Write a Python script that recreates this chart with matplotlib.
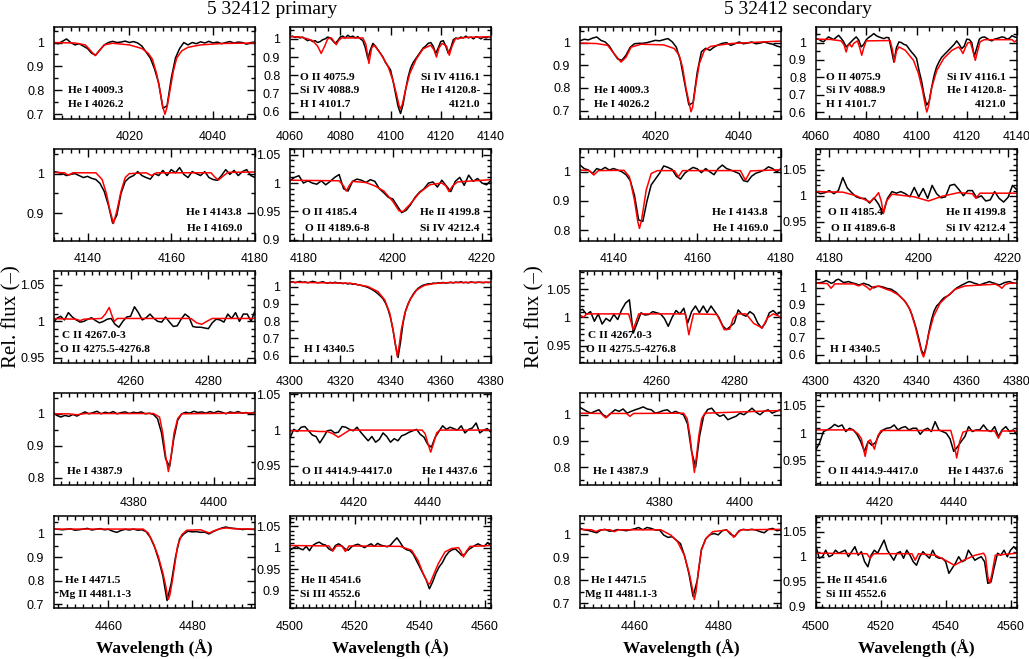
import numpy as np
import matplotlib
matplotlib.use("Agg")
import matplotlib.pyplot as plt
from matplotlib.ticker import MultipleLocator, FuncFormatter

# ============================================================
# DATA  (observed flux sampled every 1 A from the start value,
#        model given as (wavelength, flux) pairs)
# ============================================================

# ---------------- primary ----------------
p1l_start = 4002
p1l_obs = [1.0, 0.995, 1.005, 1.015, 1.0, 0.99, 0.995, 0.985, 0.975, 0.955,
           0.948, 0.97, 0.99, 1.0, 1.005, 1.0, 1.002, 1.006, 1.0, 1.004,
           0.998, 0.985, 0.96, 0.935, 0.89, 0.83, 0.725, 0.735, 0.85, 0.935,
           0.975, 1.0, 0.99, 1.0, 0.995, 1.003, 0.998, 1.005, 0.998, 1.002,
           0.995, 1.0, 1.004, 0.998, 1.002, 1.0, 0.993, 1.0, 1.002]
p1l_model = [(4002, 1.0), (4007, 0.998), (4009.5, 0.99), (4010.8, 0.965), (4011.8, 0.945),
             (4012.8, 0.965), (4014, 0.99), (4016, 0.997), (4020, 0.99), (4023, 0.975),
             (4024.5, 0.955), (4025.5, 0.93), (4026.5, 0.87), (4027.3, 0.80), (4028, 0.73),
             (4028.5, 0.70), (4029, 0.73), (4029.7, 0.80), (4030.5, 0.88), (4031.3, 0.935),
             (4032.5, 0.965), (4034, 0.98), (4037, 0.99), (4042, 0.996), (4050, 0.998)]

p1r_start = 4060
p1r_obs = [1.010, 1.015, 1.008, 1.012, 1.005, 1.01, 1.0, 0.99, 0.995, 0.985,
           0.99, 0.98, 0.985, 0.995, 1.0, 1.01, 1.005, 0.99, 0.975, 0.99,
           1.01, 1.015, 1.005, 1.02, 1.01, 1.015, 1.005, 1.012, 1.0, 0.99,
           0.95, 0.89, 0.94, 0.975, 0.96, 0.94, 0.92, 0.90, 0.87, 0.85,
           0.83, 0.77, 0.70, 0.63, 0.59, 0.64, 0.72, 0.79, 0.84, 0.87,
           0.89, 0.91, 0.93, 0.95, 0.96, 0.975, 0.98, 0.96, 0.92, 0.95,
           0.985, 0.99, 0.96, 0.92, 0.95, 0.995, 1.005, 1.0, 1.01, 1.005,
           1.015, 1.005, 1.01, 1.0, 1.012, 1.008, 1.0, 1.01, 1.005, 1.012,
           1.01]
p1r_model = [(4060, 1.012), (4064, 1.01), (4067, 1.0), (4069, 0.99), (4071, 0.96),
             (4072.4, 0.92), (4073.8, 0.96), (4075, 1.0), (4076.5, 1.005), (4077.5, 0.985),
             (4078.4, 0.968), (4079.3, 0.99), (4080.5, 1.005), (4089, 1.005), (4090.2, 0.97),
             (4091.4, 0.865), (4092.5, 0.95), (4093.5, 0.965), (4096, 0.92), (4099, 0.85),
             (4101, 0.77), (4102.3, 0.70), (4103.4, 0.635), (4103.9, 0.615), (4104.7, 0.64),
             (4105.9, 0.716), (4107.7, 0.81), (4110.3, 0.89), (4113, 0.945), (4116, 0.965),
             (4117.3, 0.94), (4118.3, 0.90), (4119.3, 0.95), (4120.5, 0.975), (4122.3, 0.96),
             (4123.4, 0.91), (4124.5, 0.96), (4125.8, 1.0), (4130, 1.008), (4140, 1.012)]

p2l_start = 4132
p2l_obs = [1.005, 1.003, 1.0, 0.995, 0.998, 1.0, 0.995, 0.99, 0.993, 0.988,
           0.985, 0.975, 0.955, 0.92, 0.875, 0.895, 0.95, 0.98, 0.99, 0.995,
           1.005, 0.995, 0.99, 0.986, 1.0, 0.995, 1.008, 0.995, 1.01, 1.002,
           1.015, 0.998, 0.99, 1.005, 1.0, 0.995, 1.005, 0.99, 0.985, 0.983,
           0.995, 1.01, 0.998, 1.008, 0.995, 1.005, 1.01, 0.995, 0.99]
p2l_model = [(4132, 1.003), (4134.5, 1.002), (4135.4, 0.996), (4136.5, 1.002), (4142, 1.002),
             (4143.5, 0.985), (4144.5, 0.95), (4145.3, 0.91), (4146.2, 0.874), (4147.1, 0.91),
             (4148, 0.955), (4149, 0.99), (4150, 1.0), (4154, 1.002), (4155.3, 0.995),
             (4156.5, 1.002), (4169.5, 1.002), (4170.5, 0.99), (4171.3, 0.984), (4172.2, 0.992),
             (4173.5, 1.003), (4180, 1.004)]

p2r_start = 4177
p2r_obs = [1.004, 1.01, 1.013, 1.0, 1.004, 1.0, 0.998, 1.004, 0.997, 1.003,
           1.01, 1.015, 0.99, 0.986, 1.003, 1.007, 1.005, 1.001, 1.006, 1.003,
           0.99, 0.983, 0.975, 0.972, 0.96, 0.948, 0.952, 0.962, 0.975, 0.984,
           0.99, 1.0, 1.002, 0.993, 1.005, 0.995, 0.985, 1.003, 1.01, 0.996,
           1.014, 1.003, 1.008, 1.0, 0.997, 1.005]
p2r_model = [(4177, 1.005), (4188, 1.004), (4189, 0.995), (4189.6, 0.986), (4190.3, 0.996),
             (4191, 1.003), (4194, 1.001), (4196, 0.995), (4198, 0.986), (4200, 0.968),
             (4201.4, 0.951), (4202.3, 0.95), (4203.8, 0.962), (4206, 0.983), (4208.3, 0.997),
             (4211, 1.0), (4211.9, 0.995), (4212.6, 0.985), (4213.4, 0.995), (4214.5, 1.002),
             (4222, 1.006)]

p3l_start = 4239
p3l_obs = [0.995, 0.998, 1.004, 1.007, 1.002, 1.012, 1.006, 1.002, 0.999, 1.0,
           1.003, 1.005, 1.001, 0.998, 1.0, 1.003, 1.004, 0.996, 0.992, 1.0,
           1.006, 1.007, 1.02, 1.012, 1.002, 1.005, 1.01, 1.004, 1.0, 0.999,
           1.006, 0.999, 0.993, 0.994, 1.003, 1.01, 1.006, 0.993, 0.992, 0.992,
           0.991, 0.99, 0.998, 1.003, 1.002, 0.999, 1.01, 1.004, 1.012, 1.0,
           1.01, 1.01, 1.0, 1.015]
p3l_model = [(4239, 1.004), (4246, 1.003), (4247, 1.001), (4248, 1.003), (4252.5, 1.004),
             (4253.5, 1.01), (4254.5, 1.019), (4255.2, 1.008), (4255.8, 1.0), (4256.6, 1.004),
             (4275.5, 1.004), (4277, 0.998), (4278.3, 0.996), (4279.6, 1.0), (4281, 1.004),
             (4292, 1.004)]

p3r_start = 4300
p3r_obs = [1.025, 1.028, 1.022, 1.026, 1.03, 1.024, 1.027, 1.022, 1.025, 1.03,
           1.026, 1.022, 1.024, 1.028, 1.023, 1.02, 1.024, 1.021, 1.025, 1.02,
           1.022, 1.017, 1.02, 1.015, 1.018, 1.013, 1.015, 1.01, 1.008, 1.004,
           1.0, 0.995, 0.988, 0.98, 0.97, 0.958, 0.945, 0.93, 0.905, 0.87,
           0.82, 0.75, 0.66, 0.59, 0.68, 0.79, 0.86, 0.9, 0.93, 0.955,
           0.975, 0.99, 1.0, 1.008, 1.012, 1.016, 1.015, 1.02, 1.018, 1.022,
           1.02, 1.024, 1.02, 1.022, 1.025, 1.021, 1.026, 1.023, 1.028, 1.022,
           1.025, 1.021, 1.027, 1.024, 1.022, 1.026, 1.024, 1.022, 1.025, 1.023,
           1.025]
p3r_model = [(4300, 1.025), (4324, 1.019), (4331, 1.0), (4335, 0.971), (4337.7, 0.923),
             (4339.7, 0.846), (4341, 0.75), (4342.1, 0.654), (4342.7, 0.596), (4343.4, 0.654),
             (4344.3, 0.75), (4345.7, 0.846), (4347.7, 0.923), (4350.3, 0.978), (4352, 0.995),
             (4353.7, 1.008), (4357.7, 1.018), (4363, 1.023), (4380, 1.025)]

p4l_start = 4360
p4l_obs = [1.006, 0.995, 0.99, 0.995, 0.992, 0.998, 0.993, 1.0, 1.006, 1.0,
           1.004, 1.008, 1.0, 1.005, 1.002, 1.007, 1.0, 1.004, 1.006, 1.001,
           1.005, 1.003, 1.006, 1.0, 1.002, 0.998, 0.985, 0.94, 0.86, 0.835,
           0.92, 0.98, 1.0, 1.005, 1.002, 1.008, 1.004, 1.006, 1.002, 1.007,
           1.003, 1.008, 1.005, 1.0, 1.006, 1.003, 1.007, 1.002, 1.004, 1.0,
           1.005]
p4l_model = [(4360, 1.0), (4364, 1.0), (4366, 0.997), (4368, 1.001), (4385, 1.001),
             (4386.5, 0.99), (4387.3, 0.94), (4388, 0.87), (4388.7, 0.82), (4389.4, 0.87),
             (4390.1, 0.94), (4391, 0.985), (4392, 1.0), (4410, 1.003)]

p4r_start = 4403
p4r_obs = [0.989, 1.001, 0.998, 1.004, 1.005, 0.999, 0.993, 0.991, 0.982, 0.99,
           0.999, 1.0, 0.996, 0.997, 1.005, 1.004, 1.001, 0.999, 1.004, 0.997,
           0.991, 0.985, 0.991, 0.983, 0.987, 0.996, 0.991, 0.983, 0.988, 0.985,
           0.992, 0.994, 0.997, 0.999, 1.001, 0.994, 0.99, 0.98, 0.976, 0.99,
           0.998, 1.006, 1.001, 1.004, 1.002, 1.0, 1.006, 0.996, 1.001, 1.003,
           1.01, 0.996, 1.0, 1.002, 0.997]
p4r_model = [(4403, 0.999), (4408, 0.999), (4411, 0.998), (4413, 0.998), (4414.5, 0.995),
             (4416, 0.99), (4417.5, 0.995), (4419, 1.0), (4438.5, 1.0), (4439.3, 0.995),
             (4440, 0.982), (4440.8, 0.969), (4441.6, 0.982), (4442.4, 0.996), (4443.3, 1.0),
             (4457, 1.0)]

p5l_start = 4447
p5l_obs = [1.021, 1.02, 1.018, 1.02, 1.022, 1.016, 1.018, 1.021, 1.024, 1.017,
           1.02, 1.023, 1.018, 1.02, 1.012, 1.007, 1.015, 1.02, 1.017, 1.021,
           1.016, 1.018, 1.01, 0.985, 0.945, 0.89, 0.82, 0.715, 0.79, 0.9,
           0.98, 1.0, 1.012, 1.009, 1.01, 1.007, 1.008, 1.0, 1.01, 1.018,
           1.025, 1.03, 1.026, 1.024, 1.022, 1.019, 1.021, 1.02, 1.019]
p5l_model = [(4447, 1.021), (4468.3, 1.021), (4469.5, 1.004), (4470.7, 0.961), (4471.9, 0.904),
             (4473, 0.833), (4473.7, 0.776), (4474.1, 0.733), (4474.3, 0.72), (4474.7, 0.74),
             (4475.3, 0.804), (4475.9, 0.876), (4476.5, 0.947), (4477.5, 0.997), (4478.7, 1.016),
             (4482, 1.018), (4483.2, 1.01), (4484.1, 1.004), (4485, 1.012), (4486.5, 1.022),
             (4488.2, 1.026), (4490, 1.022), (4495, 1.021)]

p5r_start = 4500
p5r_obs = [0.994, 0.999, 1.003, 0.998, 0.995, 1.003, 0.993, 1.005, 1.01, 1.013,
           1.008, 1.006, 0.997, 0.993, 1.005, 1.009, 1.004, 0.997, 0.994, 1.002,
           1.006, 1.008, 1.004, 1.0, 1.005, 1.009, 1.003, 1.01, 1.006, 1.004,
           1.002, 1.006, 1.015, 1.023, 1.012, 1.0, 0.995, 0.993, 0.985, 0.97,
           0.955, 0.94, 0.925, 0.904, 0.92, 0.94, 0.955, 0.965, 0.98, 0.99,
           0.995, 0.997, 0.99, 0.982, 0.985, 0.995, 1.0, 1.005, 1.009, 1.005,
           1.004, 1.012, 1.003]
p5r_model = [(4500, 1.005), (4512, 1.004), (4513.2, 0.992), (4514.3, 1.004), (4516, 1.004),
             (4517.1, 0.991), (4518.2, 1.004), (4534, 1.003), (4537.5, 0.994), (4539.5, 0.97),
             (4541.1, 0.939), (4542.6, 0.916), (4543.1, 0.915), (4544.2, 0.935), (4545.7, 0.962),
             (4547.8, 0.99), (4549.8, 0.998), (4552, 1.0), (4552.8, 0.99), (4553.5, 0.978),
             (4554.3, 0.99), (4555.5, 1.003), (4562, 1.005)]

# ---------------- secondary ----------------
s1l_start = 4002
s1l_obs = [1.008, 1.015, 1.012, 1.02, 1.025, 1.01, 1.003, 0.985, 0.955, 0.928,
           0.922, 0.945, 0.98, 0.995, 0.997, 0.997, 1.0, 1.005, 1.01, 1.008,
           1.013, 1.018, 1.004, 0.98, 0.92, 0.82, 0.725, 0.735, 0.87, 0.96,
           0.975, 0.966, 0.98, 0.99, 0.997, 1.0, 0.988, 0.995, 1.003, 0.995,
           0.998, 1.003, 0.995, 0.998, 1.003, 0.997, 0.993, 0.985, 0.98]
s1l_model = [(4002, 0.998), (4006, 0.996), (4008.6, 0.988), (4010.2, 0.95), (4011.8, 0.914),
             (4013, 0.936), (4014.2, 0.98), (4016.6, 0.993), (4022, 0.99), (4024.5, 0.974),
             (4025.7, 0.944), (4026.5, 0.89), (4027.3, 0.80), (4028.1, 0.73), (4028.5, 0.695),
             (4028.9, 0.715), (4029.7, 0.818), (4030.5, 0.907), (4031.7, 0.966), (4033.3, 0.984),
             (4038, 0.996), (4050, 1.007)]

s1r_start = 4060
s1r_obs = [1.023, 1.02, 1.01, 1.005, 1.02, 1.033, 1.025, 1.018, 1.03, 1.042,
           1.025, 1.005, 0.975, 0.99, 1.005, 1.02, 1.033, 1.015, 0.975, 0.99,
           1.017, 1.03, 1.04, 1.052, 1.04, 1.033, 1.028, 1.023, 1.03, 1.028,
           0.96, 0.888, 0.97, 1.004, 1.0, 0.99, 0.985, 0.965, 0.946, 0.93,
           0.91, 0.84, 0.78, 0.70, 0.64, 0.66, 0.74, 0.81, 0.86, 0.89,
           0.915, 0.93, 0.945, 0.96, 0.975, 0.99, 1.01, 0.99, 0.965, 0.98,
           1.02, 1.018, 1.0, 0.92, 0.97, 1.02, 1.03, 1.033, 1.025, 1.015,
           1.01, 1.02, 1.023, 1.028, 1.033, 1.03, 1.02, 1.025, 1.04, 1.033,
           1.03]
s1r_model = [(4060, 1.02), (4066, 1.018), (4070, 1.01), (4071.2, 0.985), (4072, 0.946),
             (4072.8, 0.985), (4073.5, 0.99), (4074.2, 0.975), (4075, 0.995), (4076.5, 1.01),
             (4077.4, 0.97), (4078.2, 0.927), (4079, 0.97), (4080, 1.01), (4089.5, 1.012),
             (4090.4, 0.96), (4091.2, 0.888), (4092, 0.95), (4093, 0.975), (4095.5, 0.956),
             (4098.8, 0.898), (4100.8, 0.821), (4102.4, 0.725), (4103.5, 0.638), (4104.1, 0.6),
             (4104.8, 0.635), (4106.1, 0.744), (4108.1, 0.84), (4110.8, 0.908), (4114.1, 0.956),
             (4116.7, 0.975), (4117.6, 0.96), (4118.5, 0.937), (4119.4, 0.97), (4120.5, 1.0),
             (4121.5, 1.0), (4122.5, 0.95), (4123.4, 0.898), (4124.3, 0.95), (4125.3, 1.005),
             (4127, 1.017), (4138, 1.017), (4139, 1.004), (4140, 1.015)]

s2l_start = 4132
s2l_obs = [1.023, 1.011, 1.006, 0.994, 1.011, 1.006, 1.015, 1.006, 1.011, 1.006,
           1.0, 0.99, 0.97, 0.92, 0.835, 0.83, 0.9, 0.955, 0.975, 0.995,
           1.02, 1.015, 1.008, 0.985, 0.975, 0.995, 1.006, 1.015, 1.01, 0.997,
           1.011, 1.0, 0.99, 1.011, 1.023, 1.011, 1.006, 1.0, 0.994, 0.97,
           0.966, 0.985, 0.995, 1.0, 1.006, 1.017, 1.011, 1.0, 1.011]
s2l_model = [(4132, 1.006), (4134.2, 1.004), (4135.3, 0.989), (4136.4, 1.004), (4142.5, 1.005),
             (4143.8, 0.983), (4145, 0.903), (4145.8, 0.829), (4146.2, 0.806), (4146.7, 0.834),
             (4147.8, 0.937), (4149, 0.994), (4150.5, 1.004), (4154.5, 1.004), (4155.5, 0.983),
             (4156.5, 1.004), (4170.3, 1.004), (4171.5, 0.971), (4172.7, 1.003), (4180, 1.007)]

s2r_start = 4177
s2r_obs = [1.008, 1.004, 1.006, 1.01, 1.004, 1.01, 1.035, 1.015, 1.006, 0.998,
           0.995, 0.995, 0.986, 0.996, 0.984, 0.966, 0.995, 1.008, 1.005, 1.008,
           1.004, 0.998, 1.016, 0.998, 1.014, 0.995, 1.02, 1.004, 0.996, 0.998,
           1.02, 1.022, 1.012, 1.0, 1.01, 1.01, 0.996, 1.0, 0.99, 0.992,
           1.008, 0.995, 0.988, 0.997, 1.02, 1.011]
s2r_model = [(4177, 1.008), (4183, 1.007), (4186, 1.0), (4189.1, 0.988), (4190.2, 0.997),
             (4191, 1.006), (4191.6, 0.99), (4192.1, 0.966), (4192.8, 0.99), (4194, 1.003),
             (4199, 0.998), (4202.2, 0.99), (4205.2, 0.999), (4208.9, 1.006), (4212, 1.004),
             (4212.8, 0.995), (4213.7, 1.005), (4222, 1.005)]

s3l_start = 4239
s3l_obs = [1.0, 1.012, 1.014, 1.005, 1.01, 0.993, 1.006, 0.988, 0.998, 0.993,
           1.005, 0.996, 1.013, 1.025, 1.031, 0.972, 0.99, 1.008, 1.004, 1.005,
           1.01, 1.008, 1.006, 0.998, 0.984, 1.0, 1.012, 1.006, 1.016, 0.99,
           1.01, 1.02, 1.008, 1.02, 1.008, 1.02, 1.01, 1.0, 0.985, 0.978,
           0.984, 0.99, 1.013, 1.005, 1.002, 1.01, 1.005, 0.99, 0.981, 0.99,
           1.008, 1.012, 1.005, 1.01]
s3l_model = [(4239, 1.006), (4240.5, 1.003), (4241.2, 1.0), (4242, 1.006), (4252.8, 1.006),
             (4253.5, 0.99), (4254, 0.978), (4254.6, 0.99), (4255.4, 1.006), (4267.4, 1.006),
             (4267.9, 0.985), (4268.3, 0.969), (4268.8, 0.985), (4269.5, 1.006), (4275.5, 1.005),
             (4276.6, 0.99), (4277.4, 0.978), (4278.8, 0.979), (4279.7, 0.998), (4280.7, 1.006),
             (4283, 1.006), (4285, 0.989), (4287.2, 0.981), (4288.5, 0.999), (4290, 1.006),
             (4291.5, 1.002), (4292, 0.998)]

s3r_start = 4300
s3r_obs = [1.026, 1.028, 1.03, 1.034, 1.042, 1.035, 1.026, 1.03, 1.045, 1.05,
           1.04, 1.03, 1.033, 1.036, 1.03, 1.026, 1.022, 1.016, 1.02, 1.026,
           1.02, 1.016, 1.005, 0.998, 1.006, 1.008, 1.006, 1.002, 0.996, 0.993,
           0.99, 0.98, 0.97, 0.955, 0.94, 0.925, 0.905, 0.88, 0.845, 0.8,
           0.75, 0.69, 0.625, 0.6, 0.66, 0.74, 0.81, 0.86, 0.89, 0.905,
           0.925, 0.94, 0.947, 0.956, 0.97, 0.985, 0.998, 1.006, 1.015, 1.022,
           1.03, 1.036, 1.032, 1.026, 1.022, 1.016, 1.02, 1.026, 1.03, 1.036,
           1.03, 1.026, 1.02, 1.016, 1.022, 1.03, 1.033, 1.036, 1.03, 1.026,
           1.026]
s3r_model = [(4300, 1.026), (4304.5, 1.024), (4306, 0.996), (4307.5, 1.022), (4315, 1.022),
             (4316.9, 1.01), (4318.5, 1.02), (4320.5, 1.0), (4321.5, 0.986), (4322.8, 1.005),
             (4325, 1.008), (4328, 0.99), (4330, 0.98), (4332.8, 0.956), (4335.5, 0.917),
             (4337.5, 0.867), (4339.5, 0.768), (4340.8, 0.689), (4342.1, 0.61), (4342.8, 0.586),
             (4343.5, 0.62), (4344.8, 0.719), (4346.8, 0.828), (4349.4, 0.907), (4351.4, 0.937),
             (4352.8, 0.956), (4355.4, 0.99), (4359.4, 1.01), (4371.4, 1.02), (4372.8, 1.01),
             (4374, 0.996), (4375.3, 1.018), (4377, 1.026), (4380, 1.026)]

s4l_start = 4360
s4l_obs = [1.031, 1.022, 1.013, 1.006, 1.013, 1.019, 1.0, 0.992, 1.006, 1.019,
           1.013, 1.022, 1.006, 1.013, 1.019, 1.024, 1.03, 1.022, 1.019, 1.006,
           1.01, 1.016, 1.019, 1.006, 1.013, 1.006, 1.0, 0.965, 0.86, 0.8,
           0.92, 0.995, 1.02, 1.025, 1.006, 0.994, 1.0, 0.981, 0.988, 0.994,
           1.006, 1.0, 1.012, 1.025, 1.01, 1.0, 1.013, 1.019, 1.006, 1.013,
           1.019]
s4l_model = [(4360, 1.006), (4365.5, 1.005), (4366.7, 0.988), (4367.8, 1.005), (4371.8, 1.005),
             (4372.7, 0.994), (4373.6, 1.005), (4386, 1.006), (4386.9, 0.985), (4387.6, 0.92),
             (4388.2, 0.84), (4388.7, 0.78), (4389.2, 0.84), (4389.8, 0.92), (4390.5, 0.985),
             (4391.3, 1.006), (4410, 1.016)]

s4r_start = 4403
s4r_obs = [0.97, 0.983, 1.003, 1.006, 1.01, 1.016, 1.012, 1.015, 1.003, 1.009,
           1.006, 0.998, 0.985, 0.967, 0.985, 0.978, 0.983, 0.998, 1.006, 1.009,
           1.01, 1.015, 1.006, 1.01, 1.012, 1.006, 1.009, 1.009, 0.998, 1.006,
           1.009, 1.003, 1.021, 1.006, 1.003, 1.0, 0.99, 0.967, 0.975, 0.985,
           0.994, 1.012, 1.003, 1.006, 1.006, 1.015, 1.006, 1.003, 1.012, 0.994,
           1.006, 1.012, 1.003, 1.006, 0.997]
s4r_model = [(4403, 1.006), (4413, 1.006), (4414.4, 0.998), (4415.2, 0.99), (4416.2, 0.958),
             (4417, 0.985), (4417.6, 0.988), (4418.7, 0.971), (4419.6, 0.995), (4420.5, 1.005),
             (4439.2, 1.005), (4440, 0.985), (4440.8, 0.955), (4441.6, 0.985), (4442.5, 1.002),
             (4444, 1.005), (4451, 1.004), (4452, 0.991), (4453, 1.004), (4457, 1.004)]

s5l_start = 4447
s5l_obs = [1.026, 1.02, 1.017, 1.012, 1.007, 1.019, 1.022, 1.014, 1.016, 1.021,
           1.019, 1.016, 1.02, 1.024, 1.03, 1.02, 1.03, 1.026, 1.019, 1.019,
           0.997, 0.987, 0.99, 0.975, 0.96, 0.905, 0.83, 0.73, 0.80, 0.935,
           0.98, 0.998, 1.004, 0.998, 1.016, 1.02, 1.0, 0.992, 1.016, 1.022,
           1.019, 1.022, 1.019, 1.012, 1.007, 1.022, 1.026, 1.016, 1.019]
s5l_model = [(4447, 1.022), (4449.8, 1.02), (4450.8, 1.012), (4451.8, 1.02), (4454.2, 1.02),
             (4455.2, 1.012), (4456.2, 1.02), (4466.3, 1.02), (4468.7, 0.997), (4470.3, 0.968),
             (4471.9, 0.91), (4473.1, 0.83), (4473.9, 0.758), (4474.3, 0.717), (4474.7, 0.75),
             (4475.3, 0.845), (4476, 0.932), (4477.1, 0.983), (4478.7, 1.012), (4482, 1.019),
             (4483, 1.005), (4483.7, 0.987), (4484.5, 1.005), (4485.5, 1.02), (4495, 1.022)]

s5r_start = 4500
s5r_obs = [1.02, 0.997, 1.0, 1.013, 1.0, 1.003, 1.013, 1.007, 1.01, 1.013,
           1.0, 1.01, 1.02, 1.003, 1.01, 0.99, 0.98, 1.003, 1.013, 1.007,
           1.02, 1.033, 1.013, 1.003, 0.993, 1.007, 1.01, 0.997, 1.013, 1.003,
           0.99, 0.983, 1.0, 1.01, 1.003, 0.997, 1.013, 1.0, 0.997, 0.997,
           0.99, 0.967, 0.977, 0.987, 1.0, 0.99, 0.993, 1.013, 1.003, 0.993,
           0.997, 1.0, 0.99, 0.947, 0.95, 0.98, 1.007, 1.003, 1.013, 1.0,
           1.013, 1.02, 1.013]
s5r_model = [(4500, 1.007), (4515.7, 1.006), (4516.7, 0.997), (4517.8, 1.006), (4529.6, 1.006),
             (4530.6, 0.993), (4531.6, 1.006), (4536.8, 1.003), (4539.9, 0.993), (4542.7, 0.983),
             (4545.5, 0.993), (4549.1, 1.003), (4551.7, 1.007), (4552.3, 1.0), (4553, 0.96),
             (4553.6, 0.947), (4554.3, 0.967), (4555.3, 1.003), (4562, 1.007)]

# line identifications (same for both components)
ids_l1 = ["He I 4009.3", "He I 4026.2"]
ids_r1_left = ["O II 4075.9", "Si IV 4088.9", "H I 4101.7"]
ids_r1_right = ["Si IV 4116.1", "He I 4120.8-", "4121.0"]
ids_l2 = ["He I 4143.8", "He I 4169.0"]
ids_r2_left = ["O II 4185.4", "O II 4189.6-8"]
ids_r2_right = ["He II 4199.8", "Si IV 4212.4"]
ids_l3 = ["C II 4267.0-3", "O II 4275.5-4276.8"]
ids_r3 = ["H I 4340.5"]
ids_l4 = ["He I 4387.9"]
ids_r4_left = ["O II 4414.9-4417.0"]
ids_r4_right = ["He I 4437.6"]
ids_l5 = ["He I 4471.5", "Mg II 4481.1-3"]
ids_r5 = ["He II 4541.6", "Si III 4552.6"]

# wavelength windows (left column, right column) per row
xlims = [((4002, 4050), (4060, 4140)),
         ((4132, 4180), (4177, 4222)),
         ((4240.3, 4292), (4300, 4380)),
         ((4360.3, 4410.2), (4403, 4457)),
         ((4447, 4495), (4500, 4562))]

# flux windows: primary then secondary, rows x (left, right)
ylims_prim = [((0.68, 1.065), (0.56, 1.065)),
              ((0.83, 1.062), (0.898, 1.06)),
              ((0.943, 1.069), (0.558, 1.09)),
              ((0.778, 1.065), (0.923, 1.052)),
              ((0.683, 1.077), (0.859, 1.074))]
ylims_sec = [((0.663, 1.069), (0.56, 1.09)),
             ((0.763, 1.078), (0.913, 1.09)),
             ((0.919, 1.082), (0.55, 1.099)),
             ((0.732, 1.083), (0.906, 1.073)),
             ((0.68, 1.08), (0.898, 1.081))]

# ============================================================
# LAYOUT
# ============================================================

FIG_W, FIG_H = 1029, 659
COL_X = [54, 290, 580, 816]
ROW_Y = [27, 149, 271, 393, 516]
AX_W, AX_H = 201, 92

SERIF = ["Liberation Serif", "DejaVu Serif"]
plt.rcParams["font.family"] = ["Liberation Sans", "DejaVu Sans"]

YSTEP = [(0.1, 0.1), (0.1, 0.05), (0.05, 0.1), (0.1, 0.05), (0.1, 0.05)]
XMINOR = [(2, 5), (2, 2), (2, 5), (2, 2), (2, 2)]

# text placement per row: (left-column labels, right-column labels)
def id_layout(row):
    lab_l, lab_r = [], []
    if row == 0:
        lab_l = [(0.07, 0.31, ids_l1[0], "left"), (0.07, 0.155, ids_l1[1], "left")]
        lab_r = [(0.05, 0.45 - 0.145 * i, t, "left") for i, t in enumerate(ids_r1_left)]
        lab_r += [(0.945, 0.45 - 0.145 * i, t, "right") for i, t in enumerate(ids_r1_right)]
    elif row == 1:
        lab_l = [(0.935, 0.31, ids_l2[0], "right"), (0.935, 0.14, ids_l2[1], "right")]
        lab_r = [(0.06, 0.31, ids_r2_left[0], "left"), (0.075, 0.14, ids_r2_left[1], "left"),
                 (0.945, 0.31, ids_r2_right[0], "right"), (0.945, 0.14, ids_r2_right[1], "right")]
    elif row == 2:
        lab_l = [(0.04, 0.30, ids_l3[0], "left"), (0.03, 0.15, ids_l3[1], "left")]
        lab_r = [(0.07, 0.15, ids_r3[0], "left")]
    elif row == 3:
        lab_l = [(0.065, 0.15, ids_l4[0], "left")]
        lab_r = [(0.06, 0.15, ids_r4_left[0], "left"), (0.935, 0.15, ids_r4_right[0], "right")]
    else:
        lab_l = [(0.055, 0.30, ids_l5[0], "left"), (0.025, 0.15, ids_l5[1], "left")]
        lab_r = [(0.055, 0.30, ids_r5[0], "left"), (0.05, 0.15, ids_r5[1], "left")]
    return lab_l, lab_r


def flux_fmt(v, pos):
    return f"{round(v, 3):g}"


def draw_panel(left_px, top_px, start, obs, model, xlim, ylim, ystep, xminor, ids):
    ax = fig.add_axes([left_px / FIG_W, 1 - (top_px + AX_H) / FIG_H,
                       AX_W / FIG_W, AX_H / FIG_H])
    wl = start + np.arange(len(obs))
    ax.plot(wl, obs, color="black", lw=1.1)
    mw, mf = zip(*model)
    ax.plot(mw, mf, color="red", lw=1.1)
    ax.set_xlim(*xlim)
    ax.set_ylim(*ylim)
    ax.xaxis.set_major_locator(MultipleLocator(20))
    ax.xaxis.set_minor_locator(MultipleLocator(xminor))
    ax.yaxis.set_major_locator(MultipleLocator(ystep))
    ax.yaxis.set_minor_locator(MultipleLocator(ystep / (2 if ystep > 0.06 else 5)))
    ax.yaxis.set_major_formatter(FuncFormatter(flux_fmt))
    ax.tick_params(which="both", direction="in", top=True, right=True, width=1.0)
    ax.tick_params(which="major", length=6, labelsize=9)
    ax.tick_params(which="minor", length=3)
    ax.tick_params(axis="x", pad=9)
    ax.tick_params(axis="y", pad=7)
    for sp in ax.spines.values():
        sp.set_linewidth(1.1)
    for fx, fy, txt, ha in ids:
        ax.text(fx, fy, txt, transform=ax.transAxes, ha=ha, va="center",
                fontsize=8.2, fontweight="bold", family=SERIF)
    return ax


fig = plt.figure(figsize=(FIG_W / 100, FIG_H / 100), dpi=100)

panels_prim = [(p1l_start, p1l_obs, p1l_model), (p1r_start, p1r_obs, p1r_model),
               (p2l_start, p2l_obs, p2l_model), (p2r_start, p2r_obs, p2r_model),
               (p3l_start, p3l_obs, p3l_model), (p3r_start, p3r_obs, p3r_model),
               (p4l_start, p4l_obs, p4l_model), (p4r_start, p4r_obs, p4r_model),
               (p5l_start, p5l_obs, p5l_model), (p5r_start, p5r_obs, p5r_model)]
panels_sec = [(s1l_start, s1l_obs, s1l_model), (s1r_start, s1r_obs, s1r_model),
              (s2l_start, s2l_obs, s2l_model), (s2r_start, s2r_obs, s2r_model),
              (s3l_start, s3l_obs, s3l_model), (s3r_start, s3r_obs, s3r_model),
              (s4l_start, s4l_obs, s4l_model), (s4r_start, s4r_obs, s4r_model),
              (s5l_start, s5l_obs, s5l_model), (s5r_start, s5r_obs, s5r_model)]

for star, (panels, ylims) in enumerate([(panels_prim, ylims_prim), (panels_sec, ylims_sec)]):
    for row in range(5):
        ids_pair = id_layout(row)
        for col in range(2):
            start, obs, model = panels[2 * row + col]
            draw_panel(COL_X[2 * star + col], ROW_Y[row], start, obs, model,
                       xlims[row][col], ylims[row][col], YSTEP[row][col],
                       XMINOR[row][col], ids_pair[col])

# titles and axis labels
for cx, title in [(272, "5 32412 primary"), (798, "5 32412 secondary")]:
    fig.text(cx / FIG_W, 1 - 9 / FIG_H, title, ha="center", va="center",
             fontsize=14, family=SERIF)
for lx in [12, 535]:
    fig.text(lx / FIG_W, 1 - 317 / FIG_H, "Rel. flux (\u2013)", rotation=90,
             ha="center", va="center", fontsize=15, family=SERIF)
for cx in [154, 390, 681, 916]:
    fig.text(cx / FIG_W, 1 - 648 / FIG_H, "Wavelength (\u00c5)", ha="center",
             va="center", fontsize=12.5, fontweight="bold", family=SERIF)

fig.savefig("out.png", dpi=100)
